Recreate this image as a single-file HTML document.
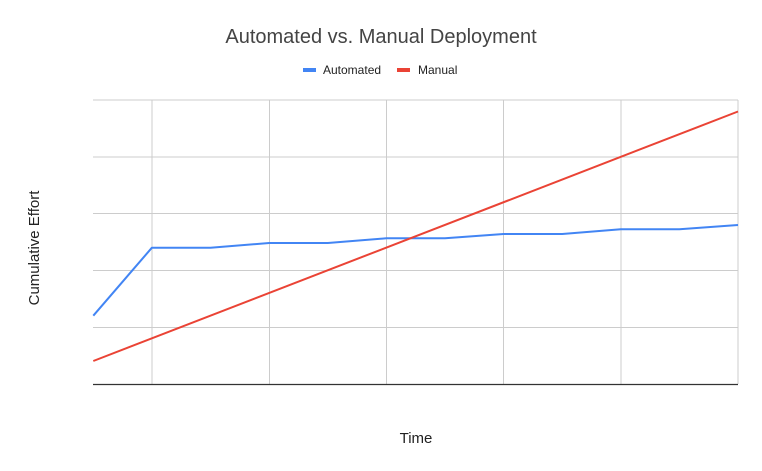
<!DOCTYPE html>
<html><head><meta charset="utf-8"><style>
html,body{margin:0;padding:0;background:#fff;}
svg{display:block;}
text{font-family:"Liberation Sans",Arial,sans-serif;}
</style></head><body>
<svg width="762" height="471" viewBox="0 0 762 471" xmlns="http://www.w3.org/2000/svg">
<rect width="762" height="471" fill="#fff"/>
<g stroke="#cccccc" stroke-width="1" fill="none">
<line x1="93" y1="100" x2="738" y2="100"/>
<line x1="93" y1="157" x2="738" y2="157"/>
<line x1="93" y1="213.5" x2="738" y2="213.5"/>
<line x1="93" y1="270.5" x2="738" y2="270.5"/>
<line x1="93" y1="327.5" x2="738" y2="327.5"/>
<line x1="152" y1="100" x2="152" y2="384"/>
<line x1="269.5" y1="100" x2="269.5" y2="384"/>
<line x1="386.5" y1="100" x2="386.5" y2="384"/>
<line x1="503.5" y1="100" x2="503.5" y2="384"/>
<line x1="621" y1="100" x2="621" y2="384"/>
<line x1="738" y1="100" x2="738" y2="384"/>
</g>
<line x1="93" y1="384.5" x2="738" y2="384.5" stroke="#333" stroke-width="1.2"/>
<polyline fill="none" stroke="#4285f4" stroke-width="2" stroke-linejoin="round" points="93.3,315.7 151.9,247.7 210.5,247.7 269.2,243 327.8,243 386.4,238.3 445,238.3 503.6,234 562.2,234 620.8,229.3 679.4,229.3 738,225"/>
<polyline fill="none" stroke="#ea4335" stroke-width="2" points="93.3,361 738,111.5"/>
<text x="381" y="43" font-size="20" fill="#444" text-anchor="middle">Automated vs. Manual Deployment</text>
<rect x="303" y="68" width="13" height="4" fill="#4285f4"/>
<text x="323" y="74" font-size="12" fill="#222">Automated</text>
<rect x="397" y="68" width="13" height="4" fill="#ea4335"/>
<text x="418" y="74" font-size="12" fill="#222">Manual</text>
<text x="416" y="443" font-size="15" fill="#222" text-anchor="middle">Time</text>
<text transform="translate(39,248) rotate(-90)" font-size="15" fill="#222" text-anchor="middle">Cumulative Effort</text>
</svg>
</body></html>
